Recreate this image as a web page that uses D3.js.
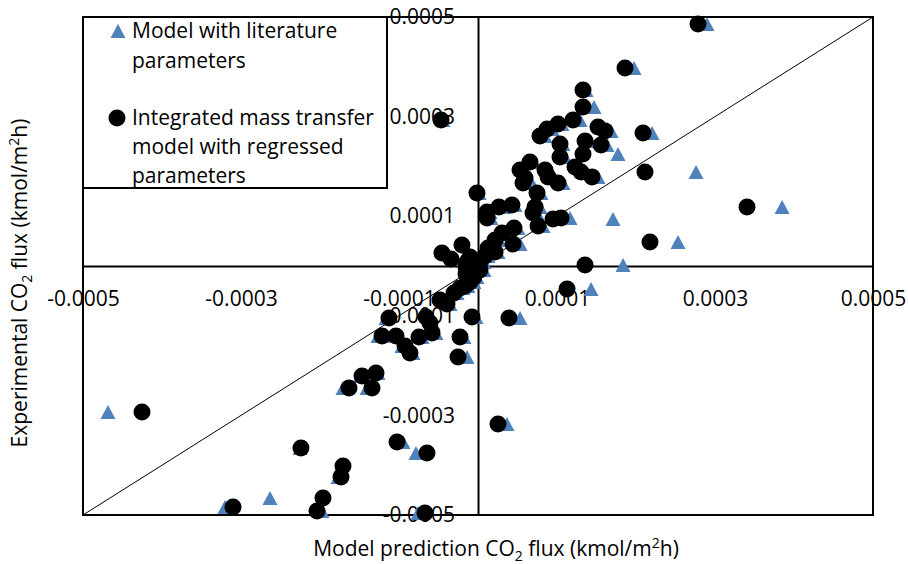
<!DOCTYPE html>
<html>
<head>
<meta charset="utf-8">
<script src="https://cdn.jsdelivr.net/npm/d3@7"></script>
<style>
  body { margin: 0; background: #fff; }
  svg { display: block; }
  text { font-family: "Open Sans", "Noto Sans", sans-serif; fill: #000; }
</style>
</head>
<body>
<svg id="chart" width="908" height="564"></svg>
<script>
// Experimental CO2 flux (kmol/m2h), one entry per run
const experimentalFlux = [
  4.859e-4, 3.976e-4, 3.534e-4, 3.193e-4, 2.932e-4, 2.851e-4, 2.751e-4, 2.610e-4, 2.791e-4, 2.711e-4,
  2.671e-4, 2.450e-4, 2.189e-4, 2.510e-4, 2.430e-4, 2.249e-4, 1.988e-4, 1.888e-4, 1.787e-4, 1.928e-4,
  1.787e-4, 1.667e-4, 1.888e-4, 1.185e-4, 0.964e-4, 0.944e-4, 0.482e-4, 0.020e-4, -0.462e-4, -1.044e-4,
  -3.173e-4, 2.932e-4, 1.466e-4, 1.084e-4, 0.964e-4, 1.185e-4, 1.225e-4, 1.928e-4, 1.667e-4, 2.088e-4,
  1.466e-4, 1.185e-4, 1.064e-4, 0.803e-4, 0.763e-4, 0.663e-4, 0.522e-4, 0.442e-4, 0.361e-4, 0.261e-4,
  0.141e-4, 0.422e-4, 0.321e-4, 0.181e-4, 0.080e-4, -0.020e-4, -0.080e-4, -0.161e-4, 0.080e-4, 0.201e-4,
  0.281e-4, -0.080e-4, -0.221e-4, -0.321e-4, -0.402e-4, -0.442e-4, -0.542e-4, -0.683e-4, -0.763e-4, -1.024e-4,
  -1.426e-4, -1.827e-4, -1.044e-4, -1.024e-4, -1.145e-4, -1.345e-4, -1.426e-4, -1.406e-4, -1.406e-4, -1.606e-4,
  -1.747e-4, -2.209e-4, -2.149e-4, -2.450e-4, -2.450e-4, -2.932e-4, -3.655e-4, -3.534e-4, -3.755e-4, -4.016e-4,
  -4.237e-4, -4.659e-4, -4.839e-4, -4.920e-4, -4.960e-4, 1.767e-4
];

// Integrated mass transfer model with regressed parameters
const regressedModelFlux = [
  2.785e-4, 1.861e-4, 1.329e-4, 1.329e-4, 1.203e-4, 1.013e-4, 0.874e-4, 0.785e-4, 1.519e-4, 1.608e-4,
  2.089e-4, 1.038e-4, 1.038e-4, 1.355e-4, 1.557e-4, 1.329e-4, 1.228e-4, 1.304e-4, 1.443e-4, 0.848e-4,
  0.886e-4, 1.013e-4, 2.114e-4, 3.405e-4, 1.051e-4, 0.950e-4, 2.177e-4, 1.355e-4, 1.127e-4, 0.392e-4,
  0.253e-4, -0.468e-4, -0.013e-4, 0.114e-4, 0.114e-4, 0.266e-4, 0.430e-4, 0.532e-4, 0.570e-4, 0.658e-4,
  0.747e-4, 0.722e-4, 0.696e-4, 0.760e-4, 0.456e-4, 0.304e-4, 0.215e-4, 0.443e-4, 0.127e-4, -0.456e-4,
  -0.342e-4, -0.203e-4, 0.190e-4, -0.101e-4, -0.139e-4, -0.152e-4, -0.101e-4, -0.152e-4, 0.025e-4, 0.089e-4,
  0.215e-4, 0.025e-4, -0.051e-4, -0.101e-4, -0.165e-4, -0.228e-4, -0.304e-4, -0.481e-4, -0.392e-4, -0.076e-4,
  -0.228e-4, -0.253e-4, -1.127e-4, -0.658e-4, -0.608e-4, -0.582e-4, -0.747e-4, -1.038e-4, -1.215e-4, -0.924e-4,
  -0.861e-4, -1.468e-4, -1.291e-4, -1.633e-4, -1.342e-4, -4.253e-4, -2.241e-4, -1.025e-4, -0.646e-4, -1.709e-4,
  -1.734e-4, -1.962e-4, -3.101e-4, -2.038e-4, -0.671e-4, 0.595e-4
];

// Model with literature parameters
const literatureModelFlux = [
  2.899e-4, 1.975e-4, 1.367e-4, 1.469e-4, 1.291e-4, 1.063e-4, 0.937e-4, 0.848e-4, 1.583e-4, 1.684e-4,
  2.203e-4, 1.076e-4, 1.101e-4, 1.418e-4, 1.633e-4, 1.772e-4, 1.291e-4, 1.355e-4, 1.519e-4, 0.912e-4,
  0.950e-4, 1.076e-4, 2.760e-4, 3.849e-4, 1.165e-4, 1.709e-4, 2.532e-4, 1.836e-4, 1.431e-4, 0.532e-4,
  0.367e-4, -0.443e-4, 0.013e-4, 0.152e-4, 0.165e-4, 0.317e-4, 0.468e-4, 0.582e-4, 0.620e-4, 0.709e-4,
  0.797e-4, 0.785e-4, 0.747e-4, 0.823e-4, 0.506e-4, 0.354e-4, 0.266e-4, 0.532e-4, 0.177e-4, -0.418e-4,
  -0.304e-4, -0.165e-4, 0.228e-4, -0.063e-4, -0.101e-4, -0.101e-4, -0.051e-4, -0.101e-4, 0.076e-4, 0.127e-4,
  0.253e-4, 0.076e-4, -0.013e-4, -0.051e-4, -0.127e-4, -0.190e-4, -0.266e-4, -0.443e-4, -0.354e-4, -0.025e-4,
  -0.177e-4, -0.139e-4, -1.165e-4, -0.608e-4, -0.570e-4, -0.532e-4, -0.709e-4, -1.089e-4, -1.266e-4, -0.962e-4,
  -0.823e-4, -1.494e-4, -1.266e-4, -1.709e-4, -1.405e-4, -4.684e-4, -2.253e-4, -0.949e-4, -0.785e-4, -1.734e-4,
  -1.772e-4, -2.633e-4, -3.203e-4, -1.975e-4, -0.759e-4, 0.646e-4
];

const axisDomain = [-0.0005, 0.0005];
const tickValues = [-0.0005, -0.0003, -0.0001, 0.0001, 0.0003, 0.0005];
const tickLabels = ["-0.0005", "-0.0003", "-0.0001", "0.0001", "0.0003", "0.0005"];
const parityLine = [-0.0005, 0.0005];

const literatureColor = "#4F81BD";
const regressedColor = "#000000";

const svg = d3.select("#chart");
const plot = { left: 83, right: 873, top: 17, bottom: 515 };

const x = d3.scaleLinear().domain(axisDomain).range([plot.left, plot.right]);
const y = d3.scaleLinear().domain(axisDomain).range([plot.bottom, plot.top]);

// Triangle marker centred on its bounding box
const triangleMarker = {
  draw(ctx, size) {
    const s = Math.sqrt(size), h = s * 0.93;
    ctx.moveTo(0, -h / 2);
    ctx.lineTo(s / 2, h / 2);
    ctx.lineTo(-s / 2, h / 2);
    ctx.closePath();
  }
};
const triPath = d3.symbol(triangleMarker, 15 * 15)();
const circleRadius = 8.5;

// Axes crossing at the origin
const xAxis = d3.axisBottom(x).tickValues(tickValues).tickSize(0).tickPadding(25)
  .tickFormat((d, i) => tickLabels[i]);
const yAxis = d3.axisLeft(y).tickValues(tickValues).tickSize(0).tickPadding(23)
  .tickFormat((d, i) => tickLabels[i]);

const gx = svg.append("g").attr("transform", `translate(0,${y(0)})`).call(xAxis);
const gy = svg.append("g").attr("transform", `translate(${x(0)},0)`).call(yAxis);
[gx, gy].forEach(g => {
  g.select(".domain").attr("stroke", "#000").attr("stroke-width", 2);
  g.selectAll("text").attr("font-size", 21).attr("font-family", '"Open Sans", sans-serif').attr("fill", "#000");
});

// Plot frame
svg.append("rect")
  .attr("x", plot.left).attr("y", plot.top)
  .attr("width", plot.right - plot.left).attr("height", plot.bottom - plot.top)
  .attr("fill", "none").attr("stroke", "#000").attr("stroke-width", 2);

// 1:1 parity line
svg.append("path")
  .datum(parityLine)
  .attr("d", d3.line().x(d => x(d)).y(d => y(d)))
  .attr("stroke", "#000").attr("stroke-width", 1).attr("fill", "none");

// Literature-parameter model (triangles)
svg.append("g").selectAll("path")
  .data(experimentalFlux.map((e, i) => ({ model: literatureModelFlux[i], exp: e })))
  .join("path")
  .attr("d", triPath)
  .attr("transform", d => `translate(${x(d.model)},${y(d.exp)})`)
  .attr("fill", literatureColor);

// Regressed-parameter model (circles)
svg.append("g").selectAll("circle")
  .data(experimentalFlux.map((e, i) => ({ model: regressedModelFlux[i], exp: e })))
  .join("circle")
  .attr("cx", d => x(d.model))
  .attr("cy", d => y(d.exp))
  .attr("r", circleRadius)
  .attr("fill", regressedColor);

// Legend
const legend = svg.append("g");
legend.append("rect")
  .attr("x", 83).attr("y", 17).attr("width", 304).attr("height", 171)
  .attr("fill", "#fff").attr("stroke", "#000").attr("stroke-width", 2);

legend.append("path").attr("d", triPath)
  .attr("transform", "translate(118,31)").attr("fill", literatureColor);
legend.append("circle").attr("cx", 117).attr("cy", 118).attr("r", circleRadius).attr("fill", regressedColor);

const legendLines = [
  ["Model with literature", 38],
  ["parameters", 68],
  ["Integrated mass transfer", 125],
  ["model with regressed", 154],
  ["parameters", 183]
];
legend.selectAll("text.lg").data(legendLines).join("text")
  .attr("class", "lg")
  .attr("x", 132).attr("y", d => d[1])
  .attr("font-size", 21)
  .text(d => d[0]);

// Axis titles with sub/superscripts
function titleText(sel, before, mid, after) {
  sel.append("tspan").text(before);
  sel.append("tspan").attr("font-size", 14).attr("dy", 5).text("2");
  sel.append("tspan").attr("dy", -5).text(mid);
  sel.append("tspan").attr("font-size", 14).attr("dy", -8).text("2");
  sel.append("tspan").attr("dy", 8).text(after);
}

const xTitle = svg.append("text")
  .attr("x", 496).attr("y", 556)
  .attr("text-anchor", "middle").attr("font-size", 21);
titleText(xTitle, "Model prediction CO", " flux (kmol/m", "h)");

const yTitle = svg.append("text")
  .attr("transform", "translate(27,283) rotate(-90)")
  .attr("text-anchor", "middle").attr("font-size", 21);
titleText(yTitle, "Experimental CO", " flux (kmol/m", "h)");
</script>
</body>
</html>
